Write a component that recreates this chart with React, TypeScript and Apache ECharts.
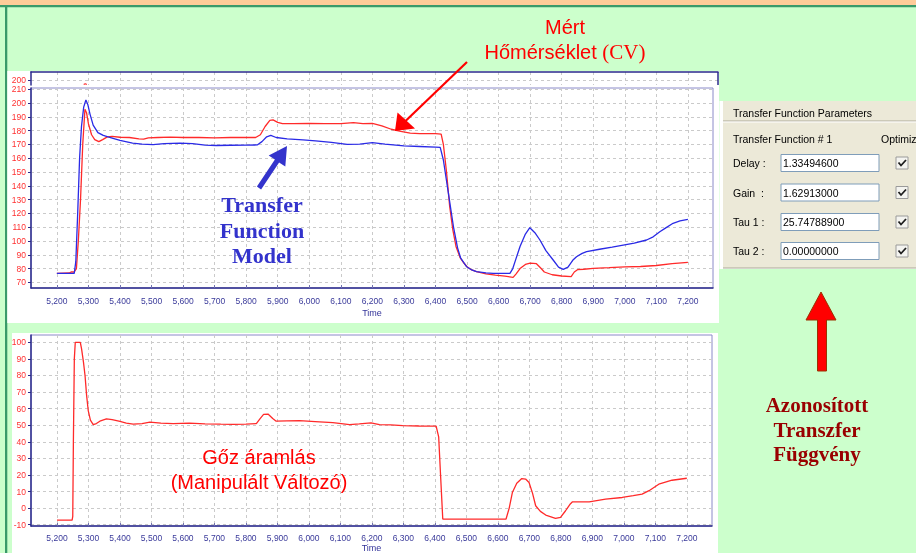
import React, { useEffect, useRef } from 'react';
import * as echarts from 'echarts';

// ---- tick values ----
const xTicks = [5200, 5300, 5400, 5500, 5600, 5700, 5800, 5900, 6000, 6100, 6200, 6300, 6400, 6500, 6600, 6700, 6800, 6900, 7000, 7100, 7200];
const tempTicks = [70, 80, 90, 100, 110, 120, 130, 140, 150, 160, 170, 180, 190, 200, 210];
const stripTicks = [200];
const mvTicks = [-10, 0, 10, 20, 30, 40, 50, 60, 70, 80, 90, 100];

// ---- measured temperature (CV), red ----
const measuredTime = [5200, 5240, 5245, 5255, 5262, 5268, 5275, 5282, 5289, 5294, 5300, 5310, 5320, 5333, 5345, 5360, 5375, 5400, 5430, 5460, 5475, 5490, 5520, 5560, 5600, 5650, 5700, 5750, 5800, 5830, 5845, 5860, 5875, 5885, 5900, 5915, 5950, 6000, 6050, 6100, 6140, 6170, 6200, 6230, 6260, 6290, 6320, 6350, 6400, 6418, 6425, 6435, 6445, 6455, 6465, 6478, 6490, 6500, 6515, 6530, 6560, 6590, 6620, 6646, 6655, 6668, 6685, 6700, 6720, 6735, 6745, 6770, 6800, 6830, 6840, 6850, 6870, 6900, 6950, 7000, 7050, 7100, 7150, 7200];
const measuredTemp = [76.5, 76.8, 77.5, 77.5, 80, 100, 130, 170, 195.5, 193, 185, 177, 173.5, 172, 173.5, 175.5, 175.8, 175.2, 175, 174, 173.8, 174.8, 175, 175.3, 175, 175, 174.8, 175, 175, 175, 177, 183, 187.5, 187.8, 186, 185, 185, 185.2, 185, 185, 185.8, 185, 185.2, 183.5, 181, 179.5, 178.2, 177.8, 177.8, 177.5, 170, 150, 125, 108, 96, 88, 84, 81.3, 79, 77.7, 76.2, 75.3, 74.5, 73.6, 76, 80, 83, 84, 83.5, 80, 77.5, 75.5, 74.6, 74.2, 77.5, 79.2, 79.5, 80.1, 80.6, 81.2, 81.5, 82.2, 83.5, 84.5];

// ---- transfer function model, blue ----
const modelTime = [5200, 5255, 5260, 5266, 5272, 5278, 5285, 5292, 5298, 5305, 5315, 5330, 5347, 5370, 5400, 5440, 5470, 5505, 5540, 5590, 5630, 5670, 5705, 5750, 5800, 5835, 5850, 5865, 5878, 5895, 5930, 5980, 6020, 6070, 6120, 6160, 6200, 6240, 6300, 6350, 6400, 6415, 6425, 6441, 6457, 6470, 6480, 6499, 6515, 6530, 6560, 6583, 6636, 6645, 6655, 6668, 6685, 6699, 6715, 6731, 6750, 6773, 6790, 6805, 6820, 6835, 6847, 6865, 6879, 6920, 6960, 6995, 7030, 7069, 7090, 7111, 7130, 7153, 7175, 7200];
const modelTemp = [76.5, 76.5, 85, 120, 160, 183, 197, 202.2, 199, 192, 184, 178.5, 176.5, 175, 173, 171, 170.2, 169.8, 170.5, 171, 170.5, 169.5, 169.2, 169.4, 169.5, 169.6, 172, 175.5, 176.5, 175, 174, 173.3, 172.5, 171.5, 170, 170.2, 171.3, 170.2, 169, 168.5, 168, 167.8, 158.7, 134.5, 110.3, 95, 87.5, 81.3, 79, 77.7, 76.8, 76.5, 76.5, 80, 87, 96, 105, 109.6, 106, 100.7, 93, 86.2, 81, 79.4, 81, 86, 88.6, 91, 92.2, 94, 95.5, 97, 98.5, 100.7, 103, 106.7, 109.5, 112.8, 114.5, 115.7];

// ---- small overflow mark in top strip ----
const stripTime = [5285, 5290, 5295];
const stripTemp = [195.4, 196.3, 195.4];

// ---- steam flow (MV), red ----
const mvTime = [5200, 5248, 5250, 5252, 5255, 5258, 5274, 5278, 5284, 5289, 5294, 5299, 5306, 5315, 5325, 5336, 5357, 5375, 5400, 5420, 5442, 5470, 5495, 5530, 5569, 5620, 5670, 5720, 5759, 5800, 5833, 5845, 5856, 5870, 5885, 5896, 5930, 5970, 6020, 6076, 6129, 6160, 6197, 6224, 6260, 6298, 6350, 6404, 6412, 6418, 6425, 6626, 6636, 6646, 6660, 6676, 6688, 6699, 6710, 6720, 6735, 6752, 6783, 6799, 6815, 6830, 6837, 6890, 6942, 6995, 7030, 7058, 7080, 7111, 7153, 7200];
const mvValue = [-7.2, -7.2, -5, 40, 90, 100, 100, 96, 88, 80, 68, 59, 53, 50.4, 51, 52.4, 53.8, 53.4, 52.3, 51.2, 50.6, 51, 51.8, 51.3, 51, 51.2, 50.8, 50.6, 50.5, 50.7, 51, 54, 56.5, 56.7, 54, 52.4, 52.6, 52.8, 52.2, 51.5, 50.4, 50.8, 51.4, 50.3, 50.2, 49.8, 49.5, 49.4, 43, 20, -6.6, -6.6, 0, 9.4, 15, 17.8, 17.5, 15.4, 9, 1.4, -2, -4.2, -6.2, -5.6, -1.6, 2.5, 3.8, 3.8, 5.4, 6.4, 7.5, 8.4, 10.5, 14.4, 16.8, 18];

// ---- parameter panel ----
const paramNames = ['Delay :', 'Gain  :', 'Tau 1 :', 'Tau 2 :'];
const paramValues = ['1.33494600', '1.62913000', '25.74788900', '0.00000000'];

const zip = (ts: number[], vs: number[]) => ts.map((t, i) => [t, vs[i]]);

const SANS = 'Liberation Sans, Arial, sans-serif';
const SERIF = 'Liberation Serif, Times New Roman, serif';
const NAVY = '#2B2B8C';

const gridLine = { show: true, lineStyle: { color: '#CACACA', type: [3, 3] as any, width: 1 } };
const fmtX = (v: number) => v.toLocaleString('en-US');

export default function App() {
  const ref = useRef<HTMLDivElement>(null);
  useEffect(() => {
    if (!ref.current) return;
    const chart = echarts.init(ref.current, null, { renderer: 'svg' });

    const paramEls: any[] = [];
    const rowY = [163, 192.5, 222, 251];
    paramNames.forEach((n, i) => {
      const y = rowY[i];
      paramEls.push({ type: 'text', z: 50, style: { text: n, x: 733, y, fill: '#000', font: `10.5px ${SANS}`, textVerticalAlign: 'middle' } });
      paramEls.push({ type: 'rect', z: 50, shape: { x: 781, y: y - 8.5, width: 98, height: 17 }, style: { fill: '#FFFFFF', stroke: '#7F9DB9', lineWidth: 1 } });
      paramEls.push({ type: 'text', z: 51, style: { text: paramValues[i], x: 783, y, fill: '#000', font: `10.5px ${SANS}`, textVerticalAlign: 'middle' } });
      paramEls.push({ type: 'rect', z: 50, shape: { x: 896, y: y - 6, width: 12, height: 12 }, style: { fill: '#F4F4F0', stroke: '#9A9A9A', lineWidth: 1 } });
      paramEls.push({ type: 'polyline', z: 51, shape: { points: [[898.5, y - 0.5], [901, y + 2.5], [906, y - 3]] }, style: { stroke: '#1E1E1E', lineWidth: 1.8, fill: 'none' } });
    });

    const xAxisCommon = (gridIndex: number, min: number, max: number, margin: number, nameGap: number) => ({
      gridIndex, type: 'value', min, max,
      axisLine: { show: true, onZero: false, lineStyle: { color: NAVY, width: 1.5 } },
      axisTick: { show: true, inside: true, length: 3, customValues: xTicks, lineStyle: { color: '#7070B0' } },
      axisLabel: { customValues: xTicks, formatter: fmtX, color: '#3A3A9A', fontSize: 8.5, fontFamily: SANS, margin },
      splitLine: gridLine,
      name: 'Time', nameLocation: 'middle', nameGap,
      nameTextStyle: { color: '#333399', fontSize: 9, fontFamily: SANS },
    });
    const yAxisCommon = (gridIndex: number, min: number, max: number, ticks: number[]) => ({
      gridIndex, type: 'value', min, max,
      axisLine: { show: true, onZero: false, lineStyle: { color: NAVY, width: 1.5 } },
      axisTick: { show: true, length: 3, customValues: ticks, lineStyle: { color: NAVY } },
      axisLabel: { customValues: ticks, color: '#FF3030', fontSize: 8.5, fontFamily: SANS, margin: 5 },
      splitLine: gridLine,
    });

    const option: any = {
      animation: false,
      grid: [
        { left: 31, top: 72, width: 687, height: 13, show: false },
        { left: 31, top: 88, width: 682, height: 200, show: true, borderColor: '#8A8AC8', borderWidth: 1, backgroundColor: 'transparent' },
        { left: 31, top: 335, width: 681, height: 192, show: true, borderColor: '#8A8AC8', borderWidth: 1, backgroundColor: 'transparent' },
      ],
      xAxis: [
        {
          gridIndex: 0, type: 'value', min: 5118, max: 7295.5, position: 'top',
          axisLine: { show: true, onZero: false, lineStyle: { color: NAVY, width: 1.5 } },
          axisTick: { show: false, customValues: xTicks },
          axisLabel: { show: false, customValues: xTicks },
          splitLine: gridLine,
        },
        xAxisCommon(1, 5118, 7279.6, 8, 20),
        xAxisCommon(2, 5117.4, 7280, 7, 17),
      ],
      yAxis: [
        yAxisCommon(0, 195, 208, stripTicks),
        yAxisCommon(1, 65.9, 210.9, tempTicks),
        yAxisCommon(2, -10.8, 104.4, mvTicks),
      ],
      series: [
        { type: 'line', xAxisIndex: 0, yAxisIndex: 0, data: zip(stripTime, stripTemp), showSymbol: false, lineStyle: { color: '#FF3030', width: 1.2 }, clip: true },
        { type: 'line', xAxisIndex: 1, yAxisIndex: 1, data: zip(measuredTime, measuredTemp), showSymbol: false, lineStyle: { color: '#FF2A2A', width: 1.3 }, z: 3 },
        { type: 'line', xAxisIndex: 1, yAxisIndex: 1, data: zip(modelTime, modelTemp), showSymbol: false, lineStyle: { color: '#2A2AE6', width: 1.3 }, z: 4 },
        { type: 'line', xAxisIndex: 2, yAxisIndex: 2, data: zip(mvTime, mvValue), showSymbol: false, lineStyle: { color: '#FF2A2A', width: 1.3 } },
      ],
      graphic: {
        elements: [
          // page background
          { type: 'rect', z: -100, shape: { x: 0, y: 0, width: 916, height: 553 }, style: { fill: '#CCFFCC' }, silent: true },
          { type: 'rect', z: -99, shape: { x: 0, y: 0, width: 916, height: 5 }, style: { fill: '#FFCC99' } },
          { type: 'rect', z: -99, shape: { x: 0, y: 5, width: 916, height: 2.3 }, style: { fill: '#3A9A6A' } },
          { type: 'rect', z: -99, shape: { x: 5, y: 5, width: 2.3, height: 548 }, style: { fill: '#3A9A6A' } },
          // white chart panels
          { type: 'rect', z: -98, shape: { x: 7.3, y: 71, width: 711.7, height: 252 }, style: { fill: '#FFFFFF' } },
          { type: 'rect', z: -98, shape: { x: 12, y: 333, width: 706, height: 220 }, style: { fill: '#FFFFFF' } },
          // top strip right border
          { type: 'line', z: 5, shape: { x1: 718, y1: 72, x2: 718, y2: 85 }, style: { stroke: NAVY, lineWidth: 1.5 } },
          // parameter panel
          { type: 'rect', z: 40, shape: { x: 719.5, y: 101, width: 196.5, height: 168 }, style: { fill: '#FFFFFF' } },
          { type: 'rect', z: 41, shape: { x: 723, y: 101, width: 193, height: 167 }, style: { fill: '#ECE9D8' } },
          { type: 'line', z: 42, shape: { x1: 723, y1: 121, x2: 916, y2: 121 }, style: { stroke: '#ACA899', lineWidth: 1 } },
          { type: 'line', z: 42, shape: { x1: 723, y1: 122, x2: 916, y2: 122 }, style: { stroke: '#FFFFFF', lineWidth: 1 } },
          { type: 'line', z: 42, shape: { x1: 723, y1: 268, x2: 916, y2: 268 }, style: { stroke: '#ACA899', lineWidth: 1 } },
          { type: 'text', z: 50, style: { text: 'Transfer Function Parameters', x: 733, y: 112.5, fill: '#000', font: `10.5px ${SANS}`, textVerticalAlign: 'middle' } },
          { type: 'text', z: 50, style: { text: 'Transfer Function # 1', x: 733, y: 139, fill: '#000', font: `10.5px ${SANS}`, textVerticalAlign: 'middle' } },
          { type: 'text', z: 50, style: { text: 'Optimiz', x: 881, y: 139, fill: '#000', font: `10.5px ${SANS}`, textVerticalAlign: 'middle' } },
          ...paramEls,
          // annotations
          {
            type: 'text', z: 100,
            style: {
              text: '{a|Mért}\n{a|Hőmérséklet }{b|(CV)}', x: 565, y: 39, textAlign: 'center', textVerticalAlign: 'middle', fill: '#FF0000',
              rich: {
                a: { fontFamily: SANS, fontSize: 20, lineHeight: 25, fill: '#FF0000' },
                b: { fontFamily: SERIF, fontSize: 21, lineHeight: 25, fill: '#FF0000' },
              },
            },
          },
          { type: 'line', z: 100, shape: { x1: 467, y1: 62, x2: 405, y2: 121.5 }, style: { stroke: '#FF0000', lineWidth: 2.2 } },
          { type: 'polygon', z: 100, shape: { points: [[395, 131], [397.5, 112.5], [415, 128.5]] }, style: { fill: '#FF0000' } },
          { type: 'polygon', z: 100, shape: { points: [[256.9, 186.6], [274.9, 159.6], [268.7, 155.5], [287, 146], [285.3, 166.5], [279.1, 162.4], [261.1, 189.4]] }, style: { fill: '#3333CC' } },
          { type: 'text', z: 100, style: { text: 'Transfer\nFunction\nModel', x: 262, y: 230, textAlign: 'center', textVerticalAlign: 'middle', fill: '#3333CC', font: `bold 22px ${SERIF}`, lineHeight: 25.5 } },
          { type: 'text', z: 100, style: { text: 'Gőz áramlás\n(Manipulált Változó)', x: 259, y: 469.5, textAlign: 'center', textVerticalAlign: 'middle', fill: '#FF0000', font: `20px ${SANS}`, lineHeight: 25.6 } },
          { type: 'polygon', z: 100, shape: { points: [[821, 292], [806, 320], [817.5, 320], [817.5, 371], [826.5, 371], [826.5, 320], [836, 320]] }, style: { fill: '#FF0000', stroke: '#993300', lineWidth: 1 } },
          { type: 'text', z: 100, style: { text: 'Azonosított\nTranszfer\nFüggvény', x: 817, y: 429.5, textAlign: 'center', textVerticalAlign: 'middle', fill: '#990000', font: `bold 21px ${SERIF}`, lineHeight: 24.6 } },
        ],
      },
    };
    chart.setOption(option);
    return () => chart.dispose();
  }, []);
  return <div ref={ref} style={{ position: 'fixed', left: 0, top: 0, width: 916, height: 553 }} />;
}
